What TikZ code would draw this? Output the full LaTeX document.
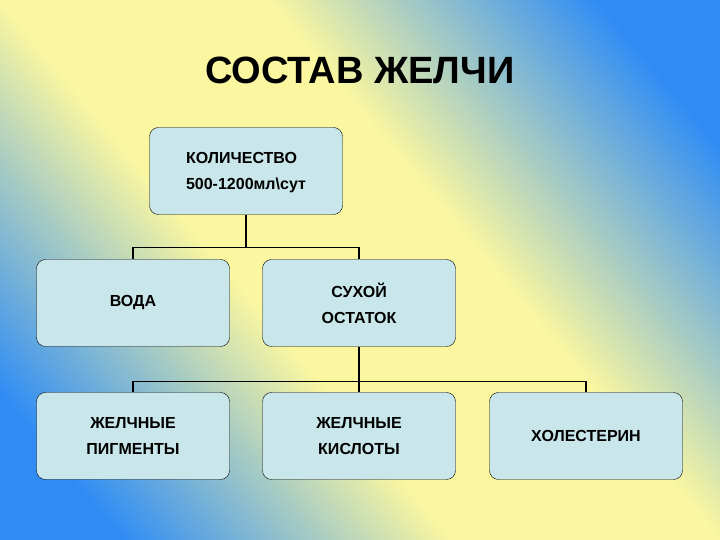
\documentclass[tikz,border=0pt]{standalone}
\usepackage{fontspec}
\setmainfont{Liberation Sans}
\definecolor{bgblue}{HTML}{2F8CF5}
\definecolor{bgyel}{HTML}{FAF7A0}
\definecolor{boxfill}{HTML}{C9E7EA}
\pgfdeclarehorizontalshading{bgshade}{100bp}{color(0bp)=(bgblue); color(22bp)=(bgblue); color(42bp)=(bgyel); color(58bp)=(bgyel); color(78bp)=(bgblue); color(100bp)=(bgblue)}
\begin{document}
\begin{tikzpicture}[x=1pt,y=1pt,
    box/.style={draw=black, fill=boxfill, rounded corners=9pt, minimum width=193pt,
        minimum height=87pt, align=center, font=\bfseries\fontsize{16}{26}\selectfont},
    link/.style={draw=black, line width=1.3pt}]
    \useasboundingbox (0,0) rectangle (720,540);
    \fill[shading=bgshade, shading angle=40] (0,0) rectangle (720,540);
    \node[font=\bfseries\fontsize{38}{44}\selectfont] (title) at (360,470) {СОСТАВ ЖЕЛЧИ};
    \node[box] (amount) at (246,369) {\begin{tabular}{@{}l@{}}КОЛИЧЕСТВО\\ 500-1200мл\textbackslash сут\end{tabular}};
    \node[box] (water) at (133,237) {ВОДА};
    \node[box] (dry) at (359,237) {СУХОЙ\\ ОСТАТОК};
    \node[box] (pigm) at (133,104) {ЖЕЛЧНЫЕ\\ ПИГМЕНТЫ};
    \node[box] (acid) at (359,104) {ЖЕЛЧНЫЕ\\ КИСЛОТЫ};
    \node[box] (chol) at (586,104) {ХОЛЕСТЕРИН};
    % connectors
    \draw[link] (amount.south) -- ++(0,-33) -| (water.north);
    \draw[link] (amount.south) ++(0,-33) -| (dry.north);
    \draw[link] (dry.south) -- ++(0,-35) -| (pigm.north);
    \draw[link] (dry.south) ++(0,-35) -- (acid.north);
    \draw[link] (dry.south) ++(0,-35) -| (chol.north);
\end{tikzpicture}
\end{document}
